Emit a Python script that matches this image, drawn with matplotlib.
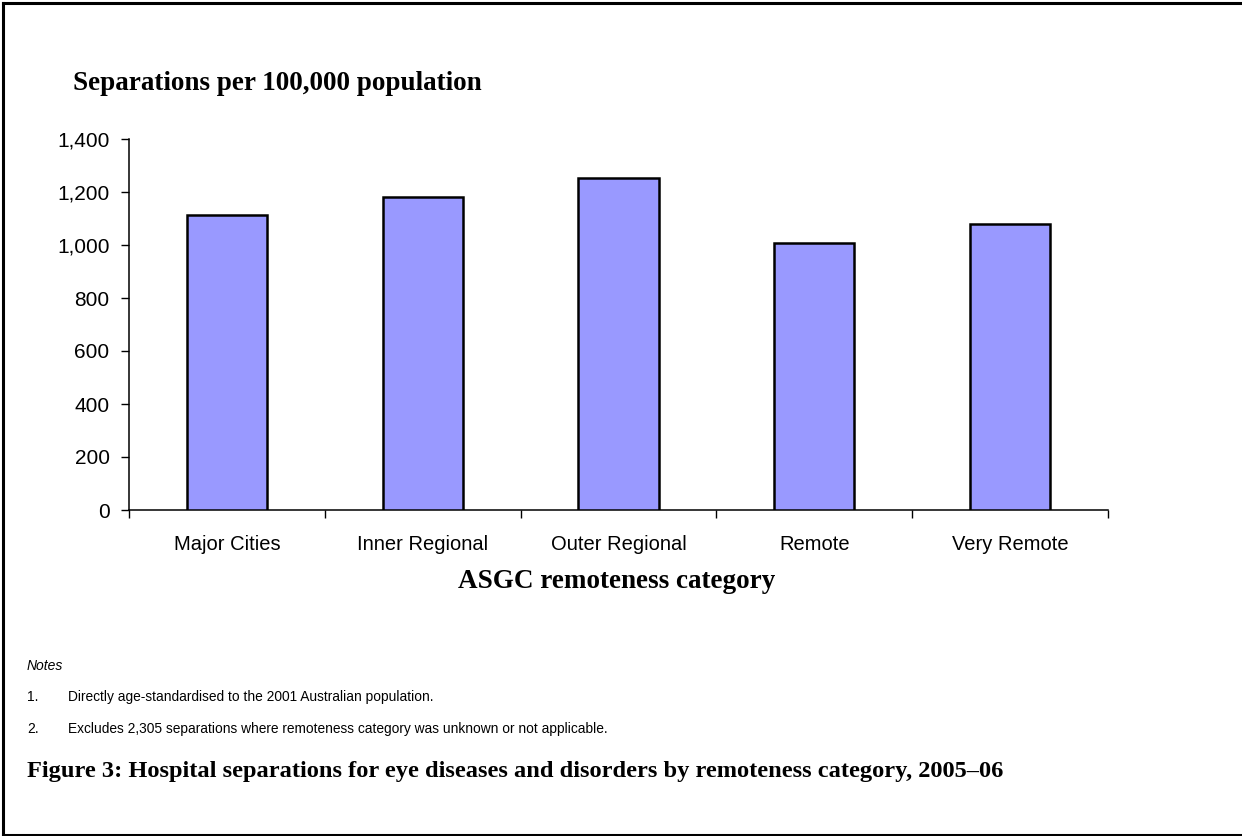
import numpy as np
import matplotlib.pyplot as plt
from matplotlib.lines import Line2D

# Age-standardised separations per 100,000, by ASGC remoteness category
categories = ['Major Cities', 'Inner Regional', 'Outer Regional', 'Remote', 'Very Remote']
rates = [1114, 1182, 1251, 1009, 1078]
yticks = [0, 200, 400, 600, 800, 1000, 1200, 1400]

notes = [
    'Directly age-standardised to the 2001 Australian population.',
    'Excludes 2,305 separations where remoteness category was unknown or not applicable.',
]
caption = 'Figure 3: Hospital separations for eye diseases and disorders by remoteness category, 2005\u201306'

W, H = 1242, 836
fig = plt.figure(figsize=(W / 100, H / 100), dpi=100)

sans = 'Liberation Sans'
serif = 'Liberation Serif'

# axes box in pixel coordinates
left, right, top, bottom = 129, 1108, 139, 510
ax = fig.add_axes([left / W, 1 - bottom / H, (right - left) / W, (bottom - top) / H])

x = np.arange(len(categories))
ax.bar(x, rates, width=0.41, color='#9999ff', edgecolor='black', linewidth=1.8, zorder=3)

ax.set_xlim(-0.5, len(categories) - 0.5)
ax.set_ylim(0, 1400)
ax.set_yticks(yticks)
ax.set_yticklabels([f'{v:,}' for v in yticks], fontfamily=sans, fontsize=15)
ax.set_xticks(x)
ax.set_xticklabels(categories, fontfamily=sans, fontsize=14.5)
ax.set_xticks(np.arange(len(categories) + 1) - 0.5, minor=True)
ax.tick_params(axis='x', which='major', length=0, pad=18)
ax.tick_params(axis='x', which='minor', length=6, width=1, direction='out')
ax.tick_params(axis='y', length=6, width=1, direction='out', pad=8)

for side in ['top', 'right']:
    ax.spines[side].set_visible(False)
for side in ['left', 'bottom']:
    ax.spines[side].set_linewidth(1.1)

def px(xp, yp):
    return xp / W, 1 - yp / H

fig.text(*px(73, 83), 'Separations per 100,000 population', fontfamily=serif,
         fontweight='bold', fontsize=19.5, va='center', ha='left')
fig.text(*px(617, 582), 'ASGC remoteness category', fontfamily=serif,
         fontweight='bold', fontsize=19.5, va='center', ha='center')

fig.text(*px(27, 666), 'Notes', fontfamily=sans, fontstyle='italic', fontsize=10, va='center')
for i, note in enumerate(notes):
    yp = 697 + i * 32
    fig.text(*px(27, yp), f'{i + 1}.', fontfamily=sans, fontsize=10, va='center')
    fig.text(*px(68, yp), note, fontfamily=sans, fontsize=9.9, va='center')

fig.text(*px(27, 772), caption, fontfamily=serif, fontweight='bold',
         fontsize=17.6, va='center', ha='left')

# frame around the whole figure (left, top, bottom)
frame = dict(color='black', linewidth=2.2, transform=fig.transFigure)
fig.add_artist(Line2D([3 / W, 3 / W], [0, 1 - 3 / H], **frame))
fig.add_artist(Line2D([3 / W, 1], [1 - 3 / H, 1 - 3 / H], **frame))
fig.add_artist(Line2D([3 / W, 1], [1 / H, 1 / H], **frame))

fig.savefig('out.png', dpi=100)
